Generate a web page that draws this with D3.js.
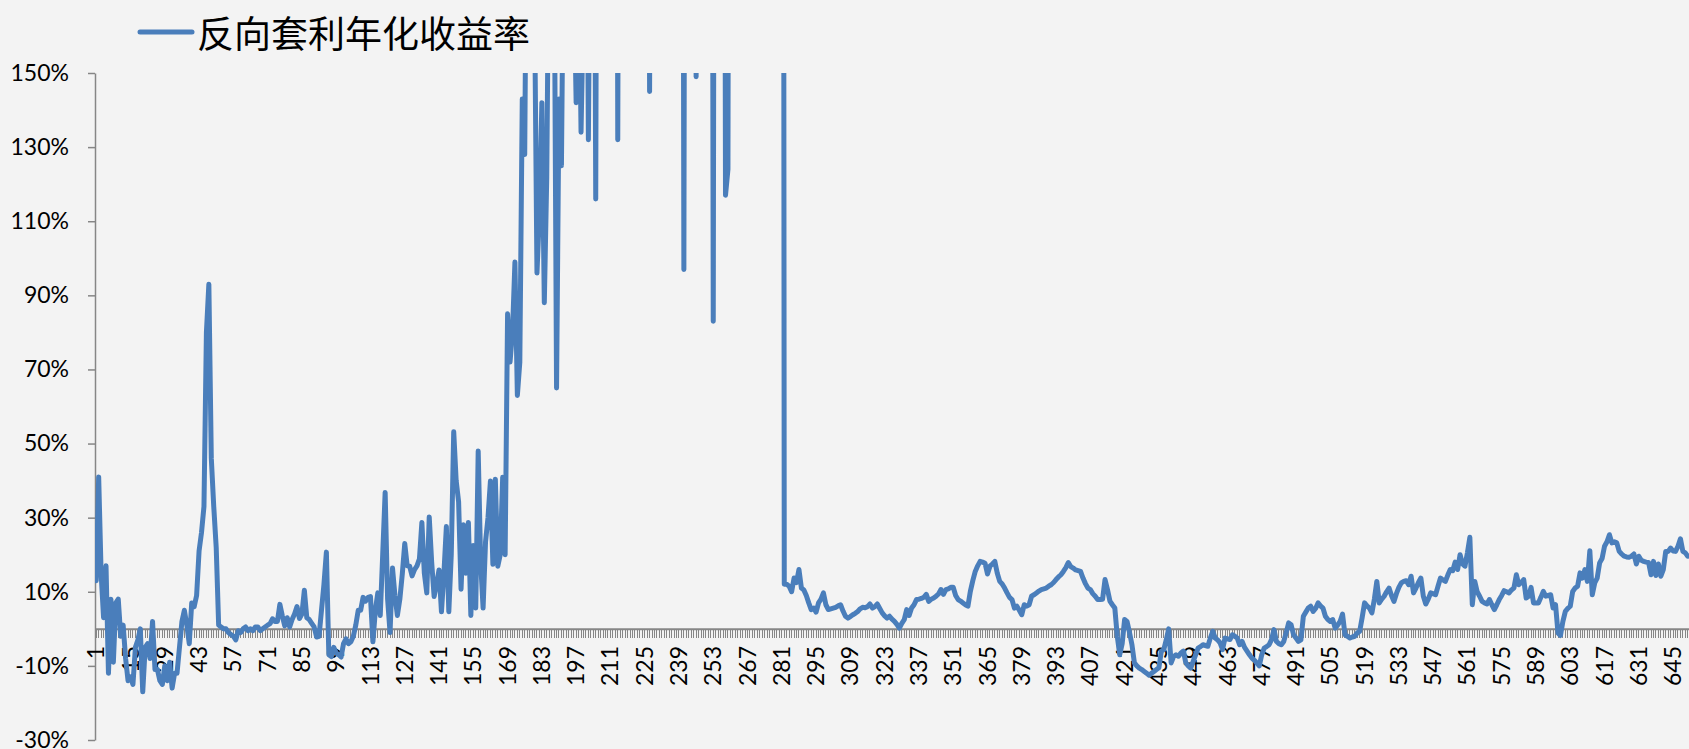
<!DOCTYPE html>
<html>
<head>
<meta charset="utf-8">
<script src="https://cdn.jsdelivr.net/npm/d3@7"></script>
<style>
  html, body { margin: 0; padding: 0; background: #f3f3f3; }
  svg { display: block; }
</style>
</head>
<body>
<svg id="chart" width="1689" height="749"></svg>
<script>
// Series name shown in the legend
const seriesName = "反向套利年化收益率";

// Annualized reverse-arbitrage yield, percent, one value per observation
const arbYield = [
  13, 41, 15, 3, 17, -12, 8, -9, 7, 8,                       // 1-10
  -2, 1, -8, -14, -13, -15, -5, -3, 0, -17,                  // 11-20
  -5, -4, -8, 2, -11, -11, -14, -15, -10, -14,               // 21-30
  -9, -16, -12, -12, -5, 2, 5, 1, -4, 7,                     // 31-40
  6, 9, 21, 26, 33, 80, 93, 46, 33, 22,                      // 41-50
  1, 0.5, 0, 0, -1, -1.5, -2, -3, -0.5, -1,                  // 51-60
  0, 0.5, -0.5, 0, -0.5, 0.5, 0.5, -0.5, 0, 0.5,             // 61-70
  1, 1.4, 2.7, 2, 2, 6.6, 3.5, 0.8, 3, 0.5,                  // 71-80
  2.5, 4, 6, 2.8, 4, 10.4, 3, 2.5, 1.5, 0.5,                 // 81-90
  -2.2, -2, 5, 12, 20.7, -7, -7.5, -5, -6.5, -7,             // 91-100
  -7.6, -4, -2.7, -4, -3.5, -2, 1, 5, 5, 8.5,                // 101-110
  7.5, 8.5, 8.7, -3.5, 5, 9.7, 3.6, 20, 36.8, 8,             // 111-120
  -1, 16.4, 9, 3.6, 8, 14.8, 23, 17, 16.9, 14.3,             // 121-130
  16, 17, 18.9, 28.7, 15, 9.7, 30.2, 18, 8.7, 12,            // 131-140
  15.9, 4.6, 15, 27.6, 4.6, 20, 53.2, 40, 34.3, 10.7,        // 141-150
  28.1, 15, 28.7, 3.6, 22.5, 5.6, 48, 18, 5.6, 23.5,         // 151-160
  30, 39.9, 17.4, 40.4, 16.9, 20, 40.9, 20, 85, 72,          // 161-170
  80, 99, 63, 72, 143, 128, 220, 260, 190, 170,              // 171-180
  96, 112, 142, 88, 122, 200, 240, 190, 65, 143,             // 181-190
  125, 200, 240, 260, 210, 180, 142, 190, 134, 170,          // 191-200
  250, 132, 220, 300, 116, 350, 400, 320, 450, 380,          // 201-210
  300, 420, 500, 132, 380, 450, 520, 400, 360, 480,          // 211-220
  550, 420, 380, 460, 500, 400, 145, 380, 520, 600,          // 221-230
  480, 420, 550, 600, 450, 500, 560, 420, 380, 480,          // 231-240
  97, 450, 520, 600, 400, 149, 420, 500, 560, 480,           // 241-250
  520, 450, 83, 480, 600, 520, 440, 117, 124, 500,           // 251-260
  560, 620, 480, 520, 600, 700, 540, 480, 600, 650,          // 261-270
  520, 580, 700, 620, 560, 640, 720, 600, 680, 750,          // 271-280
  800, 12, 12, 11.5, 10, 13.7, 12.5, 16, 11, 10.5,           // 281-290
  9, 7, 5.2, 5.6, 4.5, 7, 8, 9.7, 6.5, 5.2,                  // 291-300
  5.4, 5.6, 5.8, 6.2, 6.5, 4.8, 3.4, 2.9, 3.3, 3.8,          // 301-310
  4.2, 4.7, 5.4, 5.8, 5.7, 6, 6.7, 5.6, 6, 6.7,              // 311-320
  5.5, 4.3, 3.5, 2.9, 3.4, 2.6, 2, 1.2, 0.2, 1.5,            // 321-330
  2.5, 5.2, 3.6, 5.6, 6.5, 7.9, 8, 8.2, 8.5, 9.3,            // 331-340
  7.4, 8, 8.3, 8.8, 9.4, 10.6, 9.3, 10.6, 10.8, 11.2,        // 341-350
  11.2, 9, 7.9, 7.5, 7, 6.5, 6.1, 10.1, 13, 15.5,            // 351-360
  17, 18.2, 18, 17.7, 14.8, 16.9, 17.5, 18.2, 15, 12.8,      // 361-370
  12.1, 11, 9.7, 8.5, 7.9, 5.6, 6.1, 5, 3.8, 6.5,            // 371-380
  6.1, 6.5, 8.8, 9.2, 9.7, 10.2, 10.6, 10.8, 11, 11.5,       // 381-390
  11.9, 12.5, 13.3, 14, 14.6, 15.5, 16.5, 17.9, 16.8, 16.4,  // 391-400
  15.9, 15.7, 15.5, 13.7, 12.2, 11, 10.6, 9.5, 8.8, 7.9,     // 401-410
  7.9, 8, 13.3, 10.6, 7.5, 6.5, 5.6, -2, -7, -4,             // 411-420
  2.5, 2, -1, -4.3, -9.2, -10, -10.6, -11, -11.5, -12,       // 421-430
  -12.5, -12, -11.5, -11, -10.5, -6, -5.6, -3, 0, -9.2,      // 431-440
  -7.5, -7, -7.4, -6.5, -6, -9.2, -10, -10.6, -8.8, -7,      // 441-450
  -5.2, -4.8, -4.3, -4.5, -4.7, -2.5, -0.7, -2.5, -3, -3.8,  // 451-460
  -5.6, -2.5, -2.7, -2.9, -1.6, -2, -2.5, -4.3, -3.4, -5,    // 461-470
  -6, -7, -7.9, -8.5, -9.2, -10, -7, -5.2, -4.8, -4.3,       // 471-480
  -2.9, -0.2, -3.4, -4, -4.3, -3.4, -1, 1.6, 1.1, -1.6,      // 481-490
  -2.5, -3.4, -3, 3.4, 4.5, 5.6, 6.1, 4.7, 5.5, 7,           // 491-500
  6.2, 5.6, 3.4, 2.5, 2, 2.5, 0.2, 1, 2, 4,                  // 501-510
  -1.6, -2, -2.5, -2.2, -2, -1.1, -0.7, 3, 7, 6.2,           // 511-520
  5.6, 4.3, 8, 12.8, 7, 8, 8.8, 10, 11, 9,                   // 521-530
  7.4, 9.5, 11.2, 12.4, 12.8, 13, 11.9, 14.2, 9.7, 11,       // 531-540
  12.5, 13.7, 8.8, 6.7, 8, 9.7, 9.5, 9.2, 11.5, 13.7,        // 541-550
  13.2, 12.8, 14.5, 16, 15.7, 18, 16, 20, 17.5, 16.9,        // 551-560
  20.5, 24.7, 6.5, 12.8, 10, 8.8, 7.4, 7, 6.7, 7.9,          // 561-570
  6.5, 5.2, 6.5, 7.9, 9, 10.3, 10, 9.7, 10.5, 11,            // 571-580
  14.6, 11.9, 12.5, 13.3, 8.3, 8.8, 11.2, 7, 7, 7,           // 581-590
  8.5, 10.1, 8.8, 9, 9.2, 5.6, 6.5, -1.1, -1.8, 2,           // 591-600
  4.7, 5.5, 6.1, 10.1, 11, 11.5, 15.1, 13.7, 16, 12.8,       // 601-610
  21.1, 9.2, 12.4, 13.7, 17.8, 19, 22.3, 23.5, 25.4, 23.2,   // 611-620
  23.5, 23.2, 20.9, 20.2, 19.6, 19.4, 19.3, 19.6, 20.2, 17.5,// 621-630
  19.6, 18.5, 18.2, 18, 17.9, 14.6, 18.2, 14.4, 17.5, 14.2,  // 631-640
  16, 20.9, 20.9, 21.8, 21, 20.9, 22.3, 24.3, 20.9, 20.5,    // 641-650
  19.6                                                       // 651
];

// Axis tick values
const yTicks = [-30, -10, 10, 30, 50, 70, 90, 110, 130, 150];
const xTickLabels = [1, 15, 29, 43, 57, 71, 85, 99, 113, 127, 141, 155, 169, 183, 197,
  211, 225, 239, 253, 267, 281, 295, 309, 323, 337, 351, 365, 379, 393, 407, 421,
  435, 449, 463, 477, 491, 505, 519, 533, 547, 561, 575, 589, 603, 617, 631, 645];

const categories = d3.range(1, arbYield.length + 1);
const points = categories.map((c, i) => ({ c, v: arbYield[i] }));

const W = 1689, H = 749;
const plot = { left: 95, right: 1689, top: 73, bottom: 740 };
const axisColor = "#868686";
const lineColor = "#4a7ebb";
const axisFont = "Lato, 'Open Sans', 'Liberation Sans', sans-serif";

const svg = d3.select("#chart");
svg.append("rect").attr("width", W).attr("height", H).attr("fill", "#f3f3f3");

const x = d3.scaleBand().domain(categories).range([plot.left, plot.right]).paddingInner(0).paddingOuter(0);
const y = d3.scaleLinear().domain([-30, 150]).range([plot.bottom, plot.top]);
const cx = c => x(c) + x.bandwidth() / 2;
const y0 = y(0);

// Vertical value axis
const yAxisG = svg.append("g")
  .attr("transform", `translate(${plot.left},0)`)
  .call(d3.axisLeft(y).tickValues(yTicks).tickFormat(d => d + "%")
    .tickSizeInner(7).tickSizeOuter(0).tickPadding(19));
yAxisG.select(".domain").attr("stroke", axisColor).attr("stroke-width", 1.5);
yAxisG.selectAll(".tick line").attr("stroke", axisColor).attr("stroke-width", 1.5);
yAxisG.selectAll(".tick text")
  .attr("fill", "#000").style("font-family", axisFont).style("font-size", "23px");

// Category axis: one tick per observation, crossing at 0%
const xTickG = svg.append("g")
  .attr("transform", `translate(0,${y0})`)
  .call(d3.axisBottom(x).tickValues(categories).tickFormat("").tickSizeInner(9).tickSizeOuter(0));
xTickG.select(".domain").attr("stroke", axisColor).attr("stroke-width", 2);
xTickG.selectAll(".tick line").attr("stroke", axisColor).attr("stroke-width", 1)
  .attr("shape-rendering", "crispEdges");

// Category labels, every 14th observation, rotated
const xLabG = svg.append("g")
  .attr("transform", `translate(0,${y0})`)
  .call(d3.axisBottom(x).tickValues(xTickLabels).tickSize(0));
xLabG.select(".domain").remove();
xLabG.selectAll(".tick text")
  .attr("transform", "rotate(-90)")
  .attr("x", -(646 - y0))
  .attr("y", 0)
  .attr("dy", "0.35em")
  .attr("text-anchor", "end")
  .attr("fill", "#000")
  .style("font-family", axisFont)
  .style("font-size", "23px");

// Plot-area clip so values beyond 150% run off the top edge
svg.append("clipPath").attr("id", "plotClip")
  .append("rect")
  .attr("x", plot.left).attr("y", plot.top)
  .attr("width", plot.right - plot.left).attr("height", plot.bottom - plot.top);

const line = d3.line().x(d => cx(d.c)).y(d => y(d.v));
svg.append("path")
  .datum(points)
  .attr("clip-path", "url(#plotClip)")
  .attr("d", line)
  .attr("fill", "none")
  .attr("stroke", lineColor)
  .attr("stroke-width", 5)
  .attr("stroke-linejoin", "round")
  .attr("stroke-linecap", "round");

// Legend
const legend = svg.append("g");
legend.append("line")
  .attr("x1", 140).attr("x2", 192).attr("y1", 32).attr("y2", 32)
  .attr("stroke", lineColor).attr("stroke-width", 5).attr("stroke-linecap", "round");
legend.append("text")
  .attr("x", 197).attr("y", 32)
  .attr("dominant-baseline", "central")
  .attr("fill", "#000")
  .style("font-family", "'Noto Sans CJK SC', sans-serif")
  .style("font-size", "37px")
  .text(seriesName);
</script>
</body>
</html>
